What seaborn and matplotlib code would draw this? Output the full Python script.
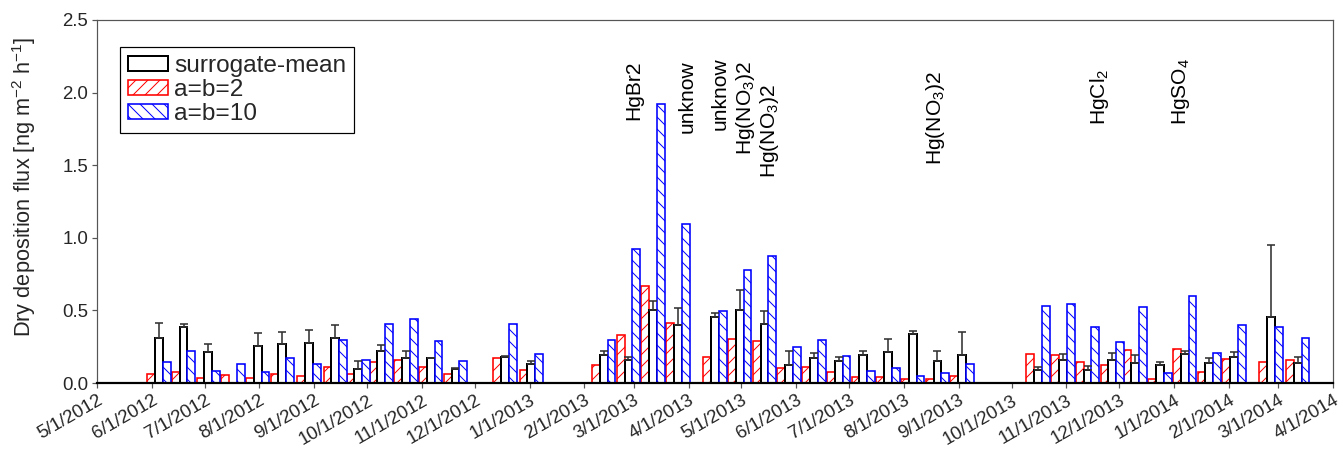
import numpy as np
import pandas as pd
import seaborn as sns
import matplotlib.pyplot as plt
import matplotlib.dates as mdates
from matplotlib.patches import Patch
from matplotlib.ticker import FuncFormatter, FormatStrFormatter

# sampling dates (centre of each group of three bars)
dates = ['2012-06-05', '2012-06-19', '2012-07-03', '2012-07-17', '2012-07-31',
         '2012-08-14', '2012-08-29', '2012-09-13', '2012-09-26', '2012-10-09',
         '2012-10-23', '2012-11-06', '2012-11-20', '2012-12-18', '2013-01-02',
         '2013-02-12', '2013-02-26', '2013-03-12', '2013-03-26', '2013-04-16',
         '2013-04-30', '2013-05-14', '2013-05-28', '2013-06-11', '2013-06-25',
         '2013-07-09', '2013-07-23', '2013-08-06', '2013-08-20', '2013-09-03',
         '2013-10-16', '2013-10-30', '2013-11-13', '2013-11-27', '2013-12-10',
         '2013-12-24', '2014-01-07', '2014-01-21', '2014-02-04', '2014-02-25',
         '2014-03-12']

# surrogate-mean and its (upper) error
surrogate_mean = [0.31, 0.384, 0.216, np.nan, 0.255, 0.267, 0.276, 0.308, 0.094, 0.218,
                  0.175, 0.175, 0.094, 0.179, 0.13, 0.19, 0.157, 0.503, 0.40, 0.453,
                  0.503, 0.405, 0.126, 0.17, 0.152, 0.193, 0.212, 0.34, 0.154, 0.191,
                  0.09, 0.157, 0.09, 0.159, 0.14, 0.124, 0.198, 0.14, 0.179, 0.455,
                  0.14]
surrogate_err = [0.105, 0.025, 0.054, np.nan, 0.092, 0.087, 0.092, 0.092, 0.056, 0.042,
                 0.043, 0.0, 0.011, 0.004, 0.024, 0.028, 0.023, 0.065, 0.115, 0.027,
                 0.136, 0.089, 0.095, 0.037, 0.03, 0.028, 0.094, 0.021, 0.064, 0.158,
                 0.023, 0.045, 0.025, 0.046, 0.05, 0.018, 0.023, 0.035, 0.035, 0.492,
                 0.039]

# model results
ab2 = [0.06, 0.074, 0.037, 0.057, 0.032, 0.064, 0.05, 0.108, 0.06, 0.143,
       0.161, 0.112, 0.06, 0.17, 0.088, 0.122, 0.333, 0.667, 0.414, 0.18,
       0.303, 0.287, 0.101, 0.108, 0.074, 0.039, 0.039, 0.025, 0.03, 0.046,
       0.198, 0.191, 0.143, 0.126, 0.23, 0.025, 0.232, 0.074, 0.163, 0.147,
       0.156]
ab10 = [0.147, 0.22, 0.08, 0.133, 0.078, 0.175, 0.129, 0.297, 0.157, 0.405,
        0.444, 0.292, 0.15, 0.405, 0.203, 0.294, 0.924, 1.922, 1.097, 0.494,
        0.78, 0.874, 0.248, 0.297, 0.184, 0.08, 0.103, 0.05, 0.067, 0.131,
        0.533, 0.543, 0.389, 0.285, 0.52, 0.067, 0.60, 0.205, 0.398, 0.389,
        0.308]

# species labels written above the bars
label_text = ['HgBr2', 'unknow', 'unknow', 'Hg(NO$_3$)2', 'Hg(NO$_3$)2',
              'Hg(NO$_3$)2', 'HgCl$_2$', 'HgSO$_4$']
label_dates = ['2013-03-01', '2013-03-31', '2013-04-19', '2013-05-03', '2013-05-17',
               '2013-08-19', '2013-11-20', '2014-01-05']
label_y = [1.81, 1.72, 1.745, 1.57, 1.41, 1.50, 1.78, 1.78]

series_order = ['a=b=2', 'surrogate-mean', 'a=b=10']
colors = {'a=b=2': 'red', 'surrogate-mean': 'black', 'a=b=10': 'blue'}
hatches = {'a=b=2': '////', 'surrogate-mean': '', 'a=b=10': '\\\\\\\\'}


def build_frame():
    """
    put the three series into one long data frame for seaborn
    """
    x = mdates.date2num(pd.to_datetime(dates))
    parts = []
    for name, vals in [('surrogate-mean', surrogate_mean), ('a=b=2', ab2), ('a=b=10', ab10)]:
        parts.append(pd.DataFrame({'x': x, 'flux': vals, 'series': name}))
    df = pd.concat(parts, ignore_index=True)
    return df.dropna()


def date_label(v, pos):
    d = mdates.num2date(v)
    return f'{d.month}/{d.day}/{d.year}'


sns.set_theme(style='ticks')
plt.rcParams['font.family'] = ['Liberation Sans', 'DejaVu Sans']
plt.rcParams['mathtext.fontset'] = 'custom'
plt.rcParams['mathtext.rm'] = 'Liberation Sans'
plt.rcParams['mathtext.it'] = 'Liberation Sans:italic'
plt.rcParams['hatch.linewidth'] = 0.5

df = build_frame()

fig = plt.figure(figsize=(1340 / 144, 451 / 144), dpi=144)
ax = fig.add_axes([97 / 1340, 1 - 383 / 451, 1236 / 1340, 363 / 451])

# grouped bars on a real date axis
sns.barplot(data=df, x='x', y='flux', hue='series', hue_order=series_order,
            palette=colors, saturation=1, native_scale=True, width=1.02,
            errorbar=None, legend=False, ax=ax)

# white bars with coloured outline and hatch
for p in ax.patches:
    fc = p.get_facecolor()
    for name in series_order:
        if np.allclose(fc[:3], plt.matplotlib.colors.to_rgb(colors[name])):
            p.set_facecolor('white')
            p.set_edgecolor(colors[name])
            p.set_hatch(hatches[name])
            p.set_linewidth(1.0 if name == 'surrogate-mean' else 0.8)

# upper error bars of the surrogate mean
xnum = mdates.date2num(pd.to_datetime(dates))
mean = np.array(surrogate_mean)
err = np.array(surrogate_err)
ok = ~np.isnan(mean)
ax.errorbar(xnum[ok], mean[ok], yerr=[np.zeros(ok.sum()), err[ok]], fmt='none',
            ecolor='#333333', elinewidth=0.8, capsize=2.2, capthick=0.8, zorder=4)

# species labels
for txt, d, y in zip(label_text, label_dates, label_y):
    ax.text(mdates.date2num(pd.Timestamp(d)), y, txt, rotation=90, ha='center',
            va='bottom', fontsize=10.5, color='black')

ax.set_xlim(mdates.date2num(pd.Timestamp('2012-05-01')),
            mdates.date2num(pd.Timestamp('2014-04-01')))
ax.set_ylim(0, 2.5)
ax.set_yticks(np.arange(0, 2.51, 0.5))
ax.yaxis.set_major_formatter(FormatStrFormatter('%.1f'))
ax.xaxis.set_major_locator(mdates.MonthLocator())
ax.xaxis.set_major_formatter(FuncFormatter(date_label))
plt.setp(ax.get_xticklabels(), rotation=30, ha='right', rotation_mode='anchor')
ax.tick_params(axis='both', labelsize=9.3, length=2.5, width=0.6, color='#555555',
               direction='out', pad=2)
ax.set_xlabel('')
ax.set_ylabel('Dry deposition flux [ng m$^{-2}$ h$^{-1}$]', fontsize=10.9)
ax.yaxis.set_label_coords(-0.048, 0.54)

for side in ['top', 'right', 'left']:
    ax.spines[side].set_color('#555555')
    ax.spines[side].set_linewidth(0.6)
ax.spines['bottom'].set_color('black')
ax.spines['bottom'].set_linewidth(1.1)

# legend with hatched boxes
handles = [Patch(facecolor='white', edgecolor='black', linewidth=1.0),
           Patch(facecolor='white', edgecolor='red', hatch='////', linewidth=0.8),
           Patch(facecolor='white', edgecolor='blue', hatch='\\\\\\\\', linewidth=0.8)]
leg = ax.legend(handles, ['surrogate-mean', 'a=b=2', 'a=b=10'], loc='upper left',
                bbox_to_anchor=(0.0186, 0.9256), borderaxespad=0, fontsize=12.2,
                frameon=True, fancybox=False, edgecolor='black', framealpha=1,
                handlelength=1.65, handleheight=0.57, labelspacing=0.08,
                handletextpad=0.25, borderpad=0.32)
leg.get_frame().set_linewidth(0.6)

fig.savefig('out.png', dpi=144)
